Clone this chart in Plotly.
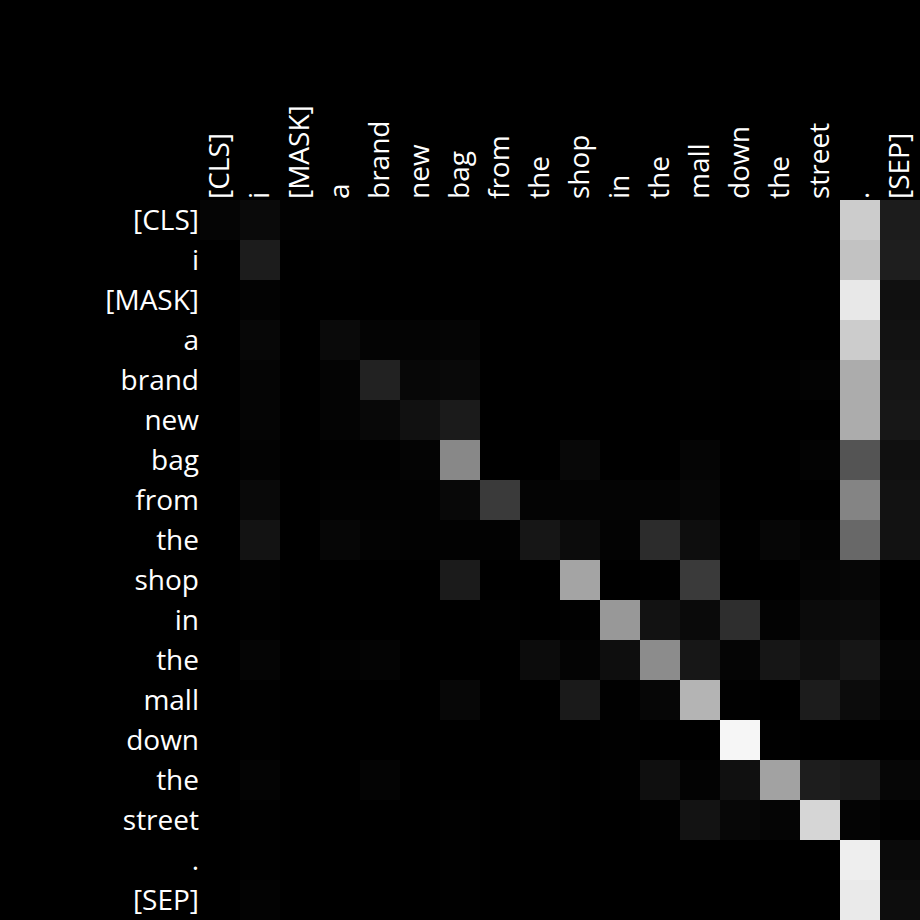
import plotly.graph_objects as go

tokens = ["[CLS]", "i", "[MASK]", "a", "brand", "new", "bag", "from", "the",
          "shop", "in", "the", "mall", "down", "the", "street", ".", "[SEP]"]

# attention weights (rows = query token, cols = key token), read as gray levels / 255
row_cls    = [5, 10, 2, 2, 1, 1, 1, 1, 1, 0, 0, 0, 0, 0, 0, 0, 204, 28]
row_i      = [0, 28, 0, 1, 0, 0, 0, 0, 0, 0, 0, 0, 0, 0, 0, 0, 194, 30]
row_mask   = [0, 3, 0, 0, 0, 0, 0, 0, 0, 0, 0, 0, 0, 0, 0, 0, 232, 16]
row_a      = [0, 7, 0, 10, 4, 4, 5, 0, 0, 0, 0, 0, 0, 0, 0, 0, 204, 18]
row_brand  = [0, 5, 0, 4, 34, 7, 9, 0, 0, 0, 0, 0, 1, 0, 1, 3, 172, 21]
row_new    = [0, 5, 0, 4, 8, 17, 27, 0, 0, 0, 0, 0, 0, 0, 0, 0, 172, 23]
row_bag    = [0, 3, 0, 1, 1, 4, 136, 0, 0, 8, 0, 0, 5, 0, 0, 3, 84, 16]
row_from   = [0, 9, 0, 2, 2, 2, 8, 58, 4, 4, 4, 4, 6, 0, 0, 0, 132, 18]
row_the1   = [0, 19, 0, 6, 3, 2, 2, 2, 22, 12, 3, 44, 14, 1, 6, 3, 104, 18]
row_shop   = [0, 2, 0, 0, 0, 0, 27, 0, 0, 164, 0, 1, 58, 0, 0, 5, 6, 0]
row_in     = [0, 1, 0, 0, 0, 0, 0, 1, 0, 1, 152, 18, 10, 46, 3, 11, 12, 0]
row_the2   = [0, 5, 0, 2, 4, 0, 0, 0, 12, 4, 14, 140, 23, 5, 22, 15, 22, 5]
row_mall   = [0, 1, 0, 0, 0, 0, 7, 0, 0, 26, 1, 6, 180, 1, 0, 28, 12, 3]
row_down   = [0, 1, 0, 0, 0, 0, 0, 0, 0, 0, 1, 0, 0, 246, 1, 0, 0, 0]
row_the3   = [0, 4, 0, 0, 4, 0, 0, 0, 1, 0, 1, 15, 3, 16, 162, 29, 26, 6]
row_street = [0, 1, 0, 0, 0, 0, 1, 0, 1, 0, 0, 1, 19, 7, 5, 214, 4, 1]
row_dot    = [0, 1, 0, 0, 0, 0, 1, 0, 0, 0, 0, 0, 0, 0, 0, 0, 238, 10]
row_sep    = [0, 3, 0, 0, 0, 0, 1, 0, 0, 0, 0, 0, 0, 0, 0, 0, 234, 13]

rows = [row_cls, row_i, row_mask, row_a, row_brand, row_new, row_bag, row_from,
        row_the1, row_shop, row_in, row_the2, row_mall, row_down, row_the3,
        row_street, row_dot, row_sep]
z = [[v / 255.0 for v in r] for r in rows]
idx = list(range(len(tokens)))

fig = go.Figure(go.Heatmap(
    z=z, x=idx, y=idx,
    colorscale=[[0, "black"], [1, "white"]],
    zmin=0, zmax=1, showscale=False, xgap=0, ygap=0,
))

font = dict(family="Open Sans", size=28, color="white")
fig.update_layout(
    width=920, height=920,
    margin=dict(l=200, r=0, t=200, b=0, pad=0),
    paper_bgcolor="black", plot_bgcolor="black",
    xaxis=dict(side="top", tickmode="array", tickvals=idx, ticktext=tokens,
               tickangle=-90, tickfont=font, showgrid=False, zeroline=False,
               showline=False, ticks="", range=[-0.5, 17.5]),
    yaxis=dict(tickmode="array", tickvals=idx, ticktext=tokens,
               tickfont=font, showgrid=False, zeroline=False, showline=False,
               ticks="", range=[17.5, -0.5]),
)
fig.write_html("out.html")
